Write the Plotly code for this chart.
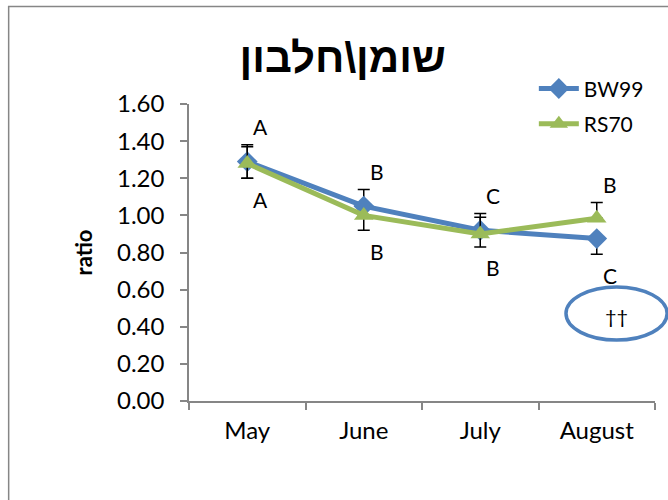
import plotly.graph_objects as go

# Monthly ratio per line, with error bars and significance letters
months = ["May", "June", "July", "August"]
bw99 = [1.29, 1.05, 0.92, 0.875]
rs70 = [1.28, 1.00, 0.90, 0.985]
bw99_plus = [0.09, 0.09, 0.09, 0.0]
bw99_minus = [0.09, 0.0, 0.0, 0.085]
rs70_plus = [0.09, 0.0, 0.09, 0.085]
rs70_minus = [0.08, 0.08, 0.07, 0.0]
letters_above = ["A", "B", "C", "B"]
letters_below = ["A", "B", "B", "C"]
y_ticks = [0.0, 0.2, 0.4, 0.6, 0.8, 1.0, 1.2, 1.4, 1.6]
title_text = "שומן\\חלבון"
mark_text = "††"

BLUE = "#4F81BD"
GREEN = "#9BBB59"
AXIS = "#868686"
FONT = "Lato"

fig = go.Figure()
fig.add_trace(go.Scatter(
    x=months, y=bw99, name="BW99", mode="lines+markers", legendgroup="bw",
    line=dict(color=BLUE, width=5),
    marker=dict(symbol="diamond", size=16, color=BLUE),
    error_y=dict(type="data", array=bw99_plus, arrayminus=bw99_minus,
                 symmetric=False, color="black", thickness=1.5, width=6),
))
fig.add_trace(go.Scatter(
    x=months, y=rs70, name="RS70", mode="lines+markers", legendgroup="rs",
    line=dict(color=GREEN, width=5),
    marker=dict(symbol="triangle-up", size=17, color=GREEN),
    error_y=dict(type="data", array=rs70_plus, arrayminus=rs70_minus,
                 symmetric=False, color="black", thickness=1.5, width=6),
))

# Significance letters above the highest and below the lowest bar end
for i, m in enumerate(months):
    top = max(bw99[i] + bw99_plus[i], rs70[i] + rs70_plus[i])
    bottom = min(bw99[i] - bw99_minus[i], rs70[i] - rs70_minus[i])
    fig.add_annotation(x=m, y=top, text=letters_above[i], showarrow=False,
                       xshift=13, yshift=18, font=dict(family=FONT, size=21, color="black"))
    fig.add_annotation(x=m, y=bottom, text=letters_below[i], showarrow=False,
                       xshift=13, yshift=-21, font=dict(family=FONT, size=21, color="black"))

# Ellipse highlighting August
fig.add_shape(type="circle", xref="paper", yref="paper", x0=0.809, x1=1.026, y0=0.205, y1=0.384,
              line=dict(color=BLUE, width=3.5))
fig.add_annotation(x=3, y=0.46, xshift=20, text=mark_text, showarrow=False,
                   font=dict(family=FONT, size=20, color="black"))

# Outer chart frame
fig.add_shape(type="rect", xref="paper", yref="paper", x0=-0.387, x1=1.2, y0=-0.5, y1=1.328,
              line=dict(color=AXIS, width=1.5), layer="below")

fig.update_layout(
    width=668, height=500,
    margin=dict(l=189, r=13, t=104, b=99),
    paper_bgcolor="white", plot_bgcolor="white",
    font=dict(family=FONT, color="black"),
    title=dict(text=title_text, x=0.513, xref="container", xanchor="center",
               y=0.886, yref="container", yanchor="middle",
               font=dict(family="Liberation Sans", size=42, color="black", weight="bold")),
    legend=dict(x=0.74, y=1.12, xanchor="left", yanchor="top",
                font=dict(family=FONT, size=21, color="black"),
                bgcolor="rgba(0,0,0,0)", traceorder="grouped", tracegroupgap=5,
                itemwidth=40),
    showlegend=True,
)
fig.update_xaxes(
    type="category", range=[-0.5, 3.5], tickson="boundaries",
    showline=True, linecolor=AXIS, linewidth=1.5,
    ticks="outside", ticklen=7, tickcolor=AXIS, tickwidth=1.5,
    showgrid=False, zeroline=False,
    tickfont=dict(family=FONT, size=24, color="black"), ticklabelstandoff=7,
)
fig.update_yaxes(
    range=[0, 1.6], tickvals=y_ticks, tickformat=".2f",
    showline=True, linecolor=AXIS, linewidth=1.5,
    ticks="outside", ticklen=7, tickcolor=AXIS, tickwidth=1.5,
    showgrid=False, zeroline=False,
    tickfont=dict(family=FONT, size=24, color="black"), ticklabelstandoff=11,
    title=dict(text="<b>ratio</b>", standoff=18, font=dict(family=FONT, size=22, color="black")),
)

fig.write_html("out.html")
